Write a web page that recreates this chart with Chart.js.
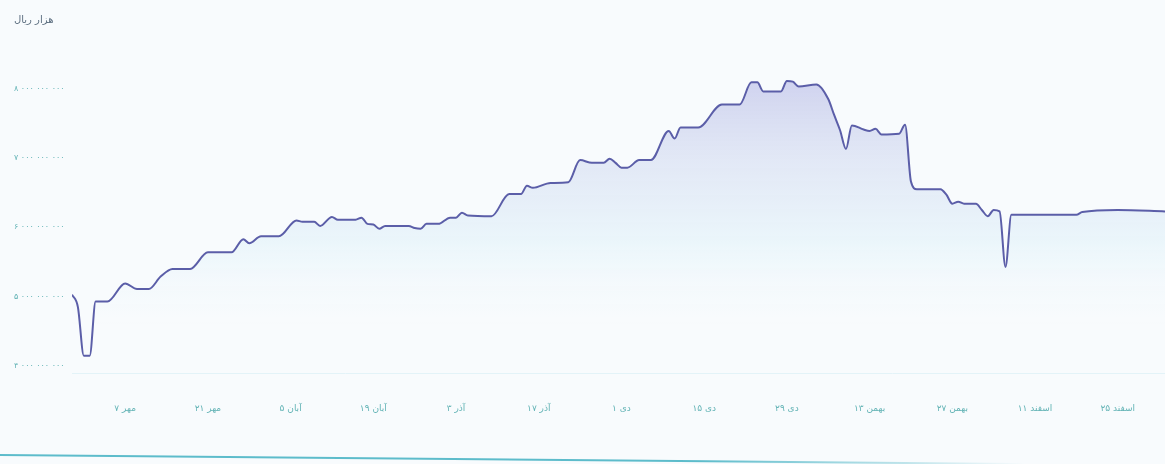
<!DOCTYPE html>
<html>
<head>
<meta charset="utf-8">
<script src="https://cdn.jsdelivr.net/npm/chart.js@4.4.1/dist/chart.umd.min.js"></script>
<style>
  body { margin: 0; background: #f8fbfd; }
  #wrap { position: absolute; left: 0; top: 0; width: 1165px; height: 420px; }
  #edge {
    position: absolute; left: 0; top: 454px; width: 1165px; height: 2px;
    background: linear-gradient(to right, #5dbccb 0%, #5dbccb 60%, rgba(93,188,203,0) 88%);
    transform: rotate(0.5deg); transform-origin: left center;
  }
</style>
</head>
<body>
<div id="wrap"><canvas id="c"></canvas></div>
<div id="edge"></div>
<script>
// days counted from 7 Mehr
const days = [-9, -8, -7, -6, -5, -3, 0, 2, 4, 6, 8, 11, 14, 18, 20, 21, 23, 26, 29, 30, 32, 33, 35, 36, 39, 40, 41, 42, 43, 44, 48, 49, 50, 51, 53, 55, 56, 57, 58, 62, 65, 67, 68, 69, 72, 75, 77, 79, 81, 82, 83, 84, 85, 87, 89, 92, 93, 94, 97, 101, 104, 106, 107, 108, 111, 112, 113, 114, 117, 119, 120, 121, 122, 123, 125, 126, 127, 128, 131, 132, 133, 134, 138, 139, 140, 141, 142, 144, 145, 146, 147, 148, 149, 150, 161, 162, 168, 176];
const values = [5.03e9, 4.85e9, 4.15e9, 4.15e9, 4.93e9, 4.93e9, 5.19e9, 5.11e9, 5.11e9, 5.29e9, 5.40e9, 5.40e9, 5.64e9, 5.64e9, 5.83e9, 5.77e9, 5.87e9, 5.87e9, 6.10e9, 6.08e9, 6.08e9, 6.02e9, 6.15e9, 6.11e9, 6.11e9, 6.14e9, 6.05e9, 6.04e9, 5.98e9, 6.02e9, 6.02e9, 5.99e9, 5.98e9, 6.05e9, 6.05e9, 6.14e9, 6.14e9, 6.21e9, 6.17e9, 6.16e9, 6.48e9, 6.48e9, 6.60e9, 6.57e9, 6.64e9, 6.65e9, 6.97e9, 6.93e9, 6.93e9, 6.99e9, 6.93e9, 6.86e9, 6.86e9, 6.97e9, 6.97e9, 7.39e9, 7.28e9, 7.44e9, 7.44e9, 7.77e9, 7.77e9, 8.09e9, 8.09e9, 7.96e9, 7.96e9, 8.11e9, 8.10e9, 8.03e9, 8.06e9, 7.85e9, 7.62e9, 7.40e9, 7.13e9, 7.47e9, 7.41e9, 7.39e9, 7.42e9, 7.34e9, 7.35e9, 7.48e9, 6.66e9, 6.55e9, 6.55e9, 6.47e9, 6.34e9, 6.37e9, 6.34e9, 6.34e9, 6.25e9, 6.16e9, 6.25e9, 6.23e9, 5.43e9, 6.18e9, 6.18e9, 6.22e9, 6.25e9, 6.23e9];
// month first so the day number shows on the left
const tickLabels = ["مهر ۷", "مهر ۲۱", "آبان ۵", "آبان ۱۹", "آذر ۳", "آذر ۱۷", "دی ۱", "دی ۱۵", "دی ۲۹", "بهمن ۱۳", "بهمن ۲۷", "اسفند ۱۱", "اسفند ۲۵"];
const yTicks = [4e9, 5e9, 6e9, 7e9, 8e9];
const unitLabel = "هزار ریال";

const faDigits = "۰۱۲۳۴۵۶۷۸۹";
function toFa(n) {
  let s = String(Math.round(n)).replace(/\B(?=(\d{3})+(?!\d))/g, " ");
  return s.replace(/\d/g, d => faDigits[d]);
}

const points = days.map((d, i) => ({ x: d, y: values[i] }));

new Chart(document.getElementById("c"), {
  type: "line",
  data: {
    datasets: [{
      data: points,
      borderColor: "#5b5ea8",
      borderWidth: 2,
      pointRadius: 0,
      cubicInterpolationMode: "monotone",
      fill: "start",
      backgroundColor: ctx => {
        const area = ctx.chart.chartArea;
        if (!area) return "rgba(0,0,0,0)";
        const g = ctx.chart.ctx.createLinearGradient(0, area.top, 0, area.bottom);
        g.addColorStop(0, "rgba(120,118,205,0.38)");
        g.addColorStop(0.35, "rgba(170,185,230,0.28)");
        g.addColorStop(0.6, "rgba(205,235,248,0.3)");
        g.addColorStop(0.85, "rgba(240,249,253,0)");
        return g;
      }
    }]
  },
  options: {
    responsive: true,
    maintainAspectRatio: false,
    animation: false,
    layout: { padding: { left: 14, right: 0, top: 0, bottom: 7 } },
    plugins: {
      legend: { display: false },
      tooltip: { enabled: false },
      title: {
        display: true,
        text: unitLabel,
        align: "start",
        color: "#5d6f80",
        font: { family: "DejaVu Sans", size: 10, weight: "normal" },
        padding: { top: 14, bottom: 21 }
      }
    },
    scales: {
      x: {
        type: "linear",
        min: -9,
        max: 176,
        afterBuildTicks: s => { s.ticks = tickLabels.map((t, i) => ({ value: i * 14 })); },
        afterFit: s => { s.height = 40; },
        grid: { display: false },
        border: { display: true, color: "#e3f3f8", width: 1 },
        ticks: {
          padding: 22,
          maxRotation: 0,
          autoSkip: false,
          color: "#62b3b5",
          font: { family: "DejaVu Sans", size: 9 },
          callback: v => tickLabels[v / 14]
        }
      },
      y: {
        min: 3.9e9,
        max: 8.6e9,
        afterBuildTicks: s => { s.ticks = yTicks.map(v => ({ value: v })); },
        afterFit: s => { s.width = 58; },
        grid: { display: false },
        border: { display: false },
        ticks: {
          crossAlign: "far",
          color: "#62b3b5",
          font: { family: "DejaVu Sans", size: 8 },
          callback: v => toFa(v)
        }
      }
    }
  }
});
</script>
</body>
</html>
